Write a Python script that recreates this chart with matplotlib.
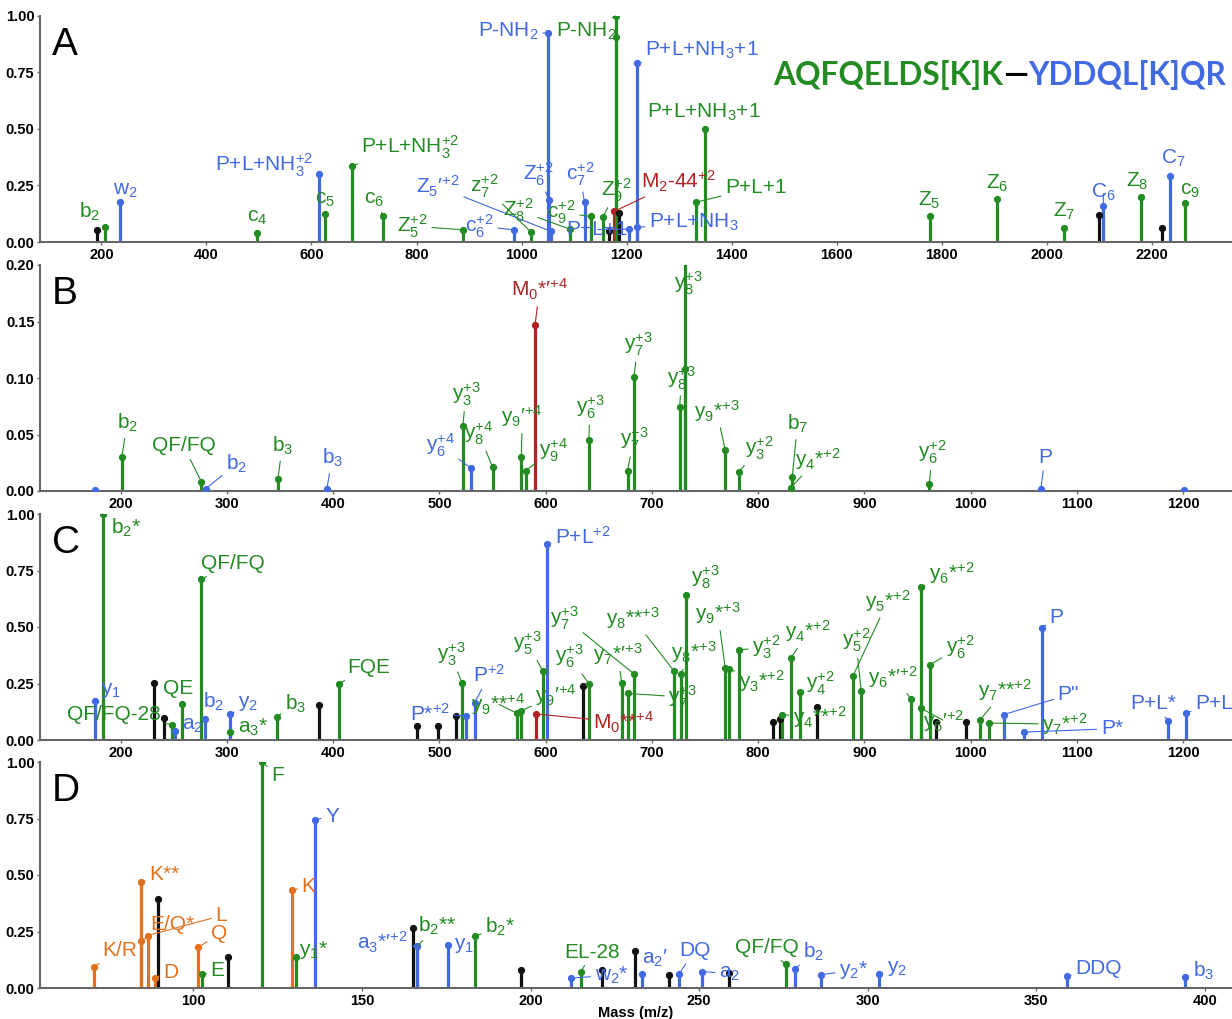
# =====================================================
# CROSS-LINKED PEPTIDE SPECTRA (A-D)
# =====================================================

import numpy as np
import matplotlib
matplotlib.use("Agg")
import matplotlib.pyplot as plt
from matplotlib.font_manager import FontProperties

# =====================================================
# DATA
# kinds: a = alpha peptide, b = beta peptide, x = cross-link,
#        u = unassigned, i = immonium
# =====================================================

A_mz = [192.5, 207, 236, 497, 614, 625, 677, 737, 889, 985, 1018, 1050, 1052,
        1056, 1092, 1120, 1133, 1155, 1167, 1176, 1179, 1179, 1185, 1204, 1220,
        1220, 1332, 1349, 1777, 1905, 2033, 2100, 2108, 2179, 2220, 2235, 2263]
A_int = [0.054, 0.066, 0.175, 0.040, 0.300, 0.123, 0.337, 0.113, 0.054, 0.054,
         0.044, 0.924, 0.186, 0.047, 0.057, 0.176, 0.113, 0.110, 0.050, 0.135,
         1.000, 0.905, 0.128, 0.057, 0.790, 0.065, 0.176, 0.500, 0.113, 0.190,
         0.063, 0.120, 0.161, 0.200, 0.062, 0.292, 0.174]
A_kind = ['u', 'a', 'b', 'a', 'b', 'a', 'a', 'a', 'a', 'b', 'a', 'b', 'b',
          'b', 'a', 'b', 'a', 'a', 'u', 'x', 'a', 'a', 'u', 'b', 'b',
          'b', 'a', 'a', 'a', 'a', 'a', 'u', 'b', 'a', 'u', 'b', 'a']
A_lab = ['', 'b$_2$', 'w$_2$', 'c$_4$', 'P+L+NH$_3^{+2}$', 'c$_5$',
         'P+L+NH$_3^{+2}$', 'c$_6$', 'Z$_5^{+2}$', 'c$_6^{+2}$', 'z$_7^{+2}$',
         'P-NH$_2$', 'Z$_6^{+2}$', 'Z$_5$′$^{+2}$', 'Z$_8^{+2}$', 'c$_7^{+2}$',
         'c$_9^{+2}$', 'Z$_9^{+2}$', '', 'M$_2$-44$^{+2}$', 'P-NH$_2$', '', '',
         'P+L+1', 'P+L+NH$_3$+1', 'P+L+NH$_3$', 'P+L+1', 'P+L+NH$_3$+1',
         'Z$_5$', 'Z$_6$', 'Z$_7$', '', 'C$_6$', 'Z$_8$', '', 'C$_7$', 'c$_9$']

B_mz = [176, 201, 276, 280, 348, 394, 522, 530, 550, 577, 581, 590, 640.5,
        677, 683, 726, 731.5, 731.5, 769, 782, 830.6, 832, 961, 1066, 1201]
B_int = [0.001, 0.030, 0.008, 0.002, 0.011, 0.002, 0.0576, 0.020, 0.021,
         0.030, 0.018, 0.147, 0.045, 0.018, 0.101, 0.074, 0.235, 0.108,
         0.036, 0.017, 0.003, 0.012, 0.0065, 0.0015, 0.0006]
B_kind = ['b', 'a', 'a', 'b', 'a', 'b', 'a', 'b', 'a', 'a', 'a', 'x', 'a',
          'a', 'a', 'a', 'a', 'a', 'a', 'a', 'a', 'a', 'a', 'b', 'b']
B_lab = ['', 'b$_2$', 'QF/FQ', 'b$_2$', 'b$_3$', 'b$_3$', 'y$_3^{+3}$',
         'y$_6^{+4}$', 'y$_8^{+4}$', 'y$_9$′$^{+4}$', 'y$_9^{+4}$',
         'M$_0$*′$^{+4}$', 'y$_6^{+3}$', 'y$_7^{+3}$', 'y$_7^{+3}$',
         'y$_8^{+3}$', 'y$_8^{+3}$', '', 'y$_9$*$^{+3}$', 'y$_3^{+2}$',
         'y$_4$*$^{+2}$', 'b$_7$', 'y$_6^{+2}$', 'P', '']

C_mz = [175.5, 183, 231, 241, 248, 251.5, 258, 276, 279, 302.7, 303, 347, 387,
        405.6, 479, 498.4, 515.7, 521, 525, 533, 573, 576.7, 591, 597, 601,
        635, 641, 671.5, 677.5, 683, 721, 727, 732.5, 769, 773, 782, 813.5,
        820.5, 822.6, 831, 839.6, 855, 889, 897, 944, 953, 953, 962, 967.6,
        996, 1009, 1017.6, 1031, 1050, 1067, 1186, 1203]
C_int = [0.174, 1.000, 0.251, 0.096, 0.068, 0.038, 0.160, 0.712, 0.091, 0.034,
         0.113, 0.103, 0.156, 0.250, 0.063, 0.060, 0.107, 0.254, 0.107, 0.163,
         0.118, 0.129, 0.115, 0.307, 0.868, 0.238, 0.247, 0.251, 0.206, 0.293,
         0.304, 0.294, 0.641, 0.319, 0.313, 0.399, 0.081, 0.093, 0.112, 0.363,
         0.212, 0.144, 0.281, 0.215, 0.182, 0.676, 0.141, 0.334, 0.079, 0.079,
         0.090, 0.075, 0.112, 0.035, 0.497, 0.085, 0.120]
C_kind = ['b', 'a', 'u', 'u', 'a', 'b', 'a', 'a', 'b', 'a', 'b', 'a', 'u',
          'a', 'u', 'u', 'u', 'a', 'b', 'b', 'a', 'a', 'x', 'a', 'b',
          'u', 'a', 'a', 'a', 'a', 'a', 'a', 'a', 'a', 'a', 'a', 'u',
          'u', 'a', 'a', 'a', 'u', 'a', 'a', 'a', 'a', 'a', 'a', 'u',
          'u', 'a', 'a', 'b', 'b', 'b', 'b', 'b']
C_lab = ['y$_1$', 'b$_2$*', '', '', 'QF/FQ-28', 'a$_2$', 'QE', 'QF/FQ',
         'b$_2$', 'a$_3$*', 'y$_2$', 'b$_3$', '', 'FQE', '', '', '',
         'y$_3^{+3}$', 'P*$^{+2}$', 'P$^{+2}$', 'y$_9$**$^{+4}$',
         'y$_9$′$^{+4}$', 'M$_0$**$^{+4}$', 'y$_5^{+3}$', 'P+L$^{+2}$', '',
         'y$_6^{+3}$', 'y$_7$*′$^{+3}$', 'y$_7^{+3}$', 'y$_7^{+3}$',
         'y$_8$**$^{+3}$', 'y$_8$*$^{+3}$', 'y$_8^{+3}$', 'y$_9$*$^{+3}$',
         'y$_3$*$^{+2}$', 'y$_3^{+2}$', '', '', 'y$_4$**$^{+2}$',
         'y$_4$*$^{+2}$', 'y$_4^{+2}$', '', 'y$_5$*$^{+2}$', 'y$_5^{+2}$',
         'y$_6$*′$^{+2}$', 'y$_6$*$^{+2}$', 'y$_6$′$^{+2}$', 'y$_6^{+2}$', '',
         '', 'y$_7$**$^{+2}$', 'y$_7$*$^{+2}$', 'P"', 'P*', 'P', 'P+L*', 'P+L']

D_mz = [70.6, 84.5, 84.5, 86.4, 88.5, 89.5, 101.5, 102.4, 110.3, 120.4, 129.3,
        130.3, 136.2, 165.2, 166.3, 166.2, 175.4, 183.4, 197.1, 212, 215,
        221.2, 231, 233, 241, 243.9, 250.9, 258.8, 275.6, 278.5, 286.2, 303.4,
        359, 394]
D_int = [0.095, 0.470, 0.210, 0.232, 0.046, 0.394, 0.180, 0.060, 0.137, 1.000,
         0.433, 0.137, 0.745, 0.264, 0.184, 0.184, 0.192, 0.229, 0.078, 0.044,
         0.073, 0.081, 0.164, 0.060, 0.059, 0.060, 0.073, 0.066, 0.104, 0.084,
         0.059, 0.063, 0.051, 0.048]
D_kind = ['i', 'i', 'i', 'i', 'i', 'u', 'i', 'a', 'u', 'a', 'i',
          'a', 'b', 'u', 'a', 'b', 'b', 'a', 'u', 'b', 'a',
          'u', 'u', 'b', 'u', 'b', 'b', 'u', 'a', 'b', 'b', 'b',
          'b', 'b']
D_lab = ['K/R', 'K**', 'E/Q*', 'L', 'D', '', 'Q', 'E', '', 'F', 'K',
         'y$_1$*', 'Y', '', 'b$_2$**', 'a$_3$*′$^{+2}$', 'y$_1$', 'b$_2$*', '',
         'w$_2$*', 'EL-28', '', '', 'a$_2$′', '', 'DQ', 'a$_2$', '', 'QF/FQ',
         'b$_2$', 'y$_2$*', 'y$_2$', 'DDQ', 'b$_3$']

# =====================================================
# LABEL PLACEMENT (data coordinates, parallel to labels)
# =====================================================

A_lab_x = [0, 177, 245, 496, 509, 625, 788, 720, 792, 920, 930, 975, 1032,
           841, 994, 1111, 1076, 1181, 0, 1299, 1124, 0, 0, 1143, 1344, 1328,
           1446, 1347, 1777, 1905, 2033, 0, 2108, 2172, 0, 2241, 2273]
A_lab_y = [0, 0.135, 0.23, 0.11, 0.34, 0.19, 0.42, 0.19, 0.07, 0.07, 0.245,
           0.93, 0.30, 0.245, 0.14, 0.30, 0.13, 0.23, 0, 0.27, 0.93, 0, 0,
           0.055, 0.85, 0.085, 0.24, 0.575, 0.186, 0.26, 0.135, 0, 0.22,
           0.267, 0, 0.37, 0.23]

B_lab_x = [0, 206, 259, 309, 352, 399, 525, 501, 537, 578, 607, 594, 642, 683,
           687, 728, 734, 0, 761, 801, 856, 837, 964, 1070, 0]
B_lab_y = [0, 0.060, 0.040, 0.024, 0.040, 0.029, 0.086, 0.040, 0.051, 0.066,
           0.036, 0.178, 0.074, 0.046, 0.130, 0.100, 0.184, 0, 0.071, 0.038,
           0.028, 0.059, 0.034, 0.030, 0]

C_lab_x = [190.6, 205, 0, 0, 194, 268, 254, 306, 287, 324.6, 320, 364.5, 0,
           433.6, 0, 0, 0, 511, 491, 547, 555, 610, 673, 583, 635, 0, 622.5,
           668, 729, 618, 682, 739, 750, 762, 803, 808, 0, 0, 858, 847, 858,
           0, 922, 892, 927, 982, 975, 990, 0, 0, 1032, 1089, 1092, 1133,
           1081, 1172, 1229]
C_lab_y = [0.22, 0.94, 0, 0, 0.115, 0.063, 0.23, 0.78, 0.17, 0.056, 0.16,
           0.16, 0, 0.32, 0, 0, 0, 0.38, 0.115, 0.29, 0.16, 0.20, 0.078, 0.43,
           0.90, 0, 0.37, 0.38, 0.19, 0.54, 0.54, 0.387, 0.72, 0.56, 0.26,
           0.41, 0, 0, 0.10, 0.48, 0.25, 0, 0.615, 0.44, 0.28, 0.74, 0.085,
           0.41, 0, 0, 0.22, 0.07, 0.20, 0.05, 0.54, 0.16, 0.16]

D_lab_x = [78.2, 91.3, 93.8, 108.3, 93.3, 0, 107.6, 107.1, 0, 124.9, 134.2,
           135.7, 141.1, 0, 172.4, 156, 180.3, 191, 0, 224, 218.2, 0, 0, 237,
           0, 248.7, 259, 0, 270, 284, 295.8, 308.6, 368.4, 399.5]
D_lab_y = [0.166, 0.50, 0.28, 0.32, 0.07, 0, 0.24, 0.078, 0, 0.94, 0.45,
           0.166, 0.76, 0, 0.276, 0.20, 0.188, 0.27, 0, 0.056, 0.159, 0, 0,
           0.13, 0, 0.166, 0.063, 0, 0.18, 0.16, 0.078, 0.085, 0.085, 0.078]

# =====================================================
# STYLE
# =====================================================

colors = {'a': '#228B22', 'b': '#4169E1', 'x': '#B22222',
          'u': '#111111', 'i': '#E2711D'}

plt.rcParams['font.family'] = ['Liberation Sans', 'DejaVu Sans']
plt.rcParams['mathtext.fontset'] = 'custom'
plt.rcParams['mathtext.rm'] = 'Liberation Sans'
plt.rcParams['mathtext.it'] = 'Liberation Sans:italic'
plt.rcParams['mathtext.bf'] = 'Liberation Sans:bold'

tick_fp = FontProperties(family='Liberation Sans', weight='bold', size=10.5)

panels = [
    ('A', A_mz, A_int, A_kind, A_lab, A_lab_x, A_lab_y,
     (83, 2353), np.arange(200, 2201, 200), 1.0, np.arange(0, 1.01, 0.25)),
    ('B', B_mz, B_int, B_kind, B_lab, B_lab_x, B_lab_y,
     (124, 1246), np.arange(200, 1201, 100), 0.2, np.arange(0, 0.201, 0.05)),
    ('C', C_mz, C_int, C_kind, C_lab, C_lab_x, C_lab_y,
     (124, 1246), np.arange(200, 1201, 100), 1.0, np.arange(0, 1.01, 0.25)),
    ('D', D_mz, D_int, D_kind, D_lab, D_lab_x, D_lab_y,
     (54.5, 408), np.arange(100, 401, 50), 1.0, np.arange(0, 1.01, 0.25)),
]

# =====================================================
# FIGURE
# =====================================================

fig = plt.figure(figsize=(12.32, 10.19), dpi=100)

left = 40 / 1232
width = 1 - left
height = 226 / 1019
bottoms = [(1019 - 242) / 1019, (1019 - 491) / 1019,
           (1019 - 740) / 1019, (1019 - 988) / 1019]

for (letter, mz, inten, kind, lab, lx, ly, xlim, xt, ytop, yt), bot in zip(panels, bottoms):

    ax = fig.add_axes([left, bot, width, height])

    for m, h, k in zip(mz, inten, kind):
        c = colors[k]
        ax.vlines(m, 0, h, color=c, lw=2.3, zorder=2)
        ax.plot(m, h, 'o', color=c, ms=4.2, zorder=3, clip_on=True)

    for m, h, k, t, x, y in zip(mz, inten, kind, lab, lx, ly):
        if t == '':
            continue
        c = colors[k]
        ax.annotate(
            t,
            xy=(m, min(h, ytop)),
            xytext=(x, y),
            ha='center',
            va='center',
            color=c,
            fontsize=15,
            zorder=4,
            arrowprops=dict(arrowstyle='-', color=c, lw=0.8,
                            shrinkA=1, shrinkB=0)
        )

    ax.set_xlim(*xlim)
    ax.set_ylim(0, ytop)
    ax.set_xticks(xt)
    ax.set_yticks(yt)
    ax.set_yticklabels(['%.2f' % v for v in yt])

    for s in ['top', 'right']:
        ax.spines[s].set_visible(False)
    for s in ['left', 'bottom']:
        ax.spines[s].set_color('#666666')
        ax.spines[s].set_linewidth(1.5)

    ax.tick_params(length=2, width=1, color='#666666', pad=2)
    for tl in ax.get_xticklabels() + ax.get_yticklabels():
        tl.set_fontproperties(tick_fp)

    ax.text(0.01, 0.87, letter, transform=ax.transAxes, ha='left',
            va='center', fontsize=28, color='black')

    if letter == 'D':
        ax.set_xlabel('Mass (m/z)', fontproperties=tick_fp, labelpad=-1)

# =====================================================
# PEPTIDE SEQUENCE TITLE
# =====================================================

fig.canvas.draw()
renderer = fig.canvas.get_renderer()

ty = 1 - 75 / 1019
x_right = 1226 / 1232
parts = [('YDDQL[K]QR', colors['b']), ('—', 'black'),
         ('AQFQELDS[K]K', colors['a'])]

for txt, c in parts:
    t = fig.text(x_right, ty, txt, color=c, ha='right', va='center',
                 fontsize=22.8, fontweight='bold', family=['Lato', 'DejaVu Sans'])
    bb = t.get_window_extent(renderer)
    x_right = bb.x0 / fig.bbox.width

fig.savefig('out.png', dpi=100)
